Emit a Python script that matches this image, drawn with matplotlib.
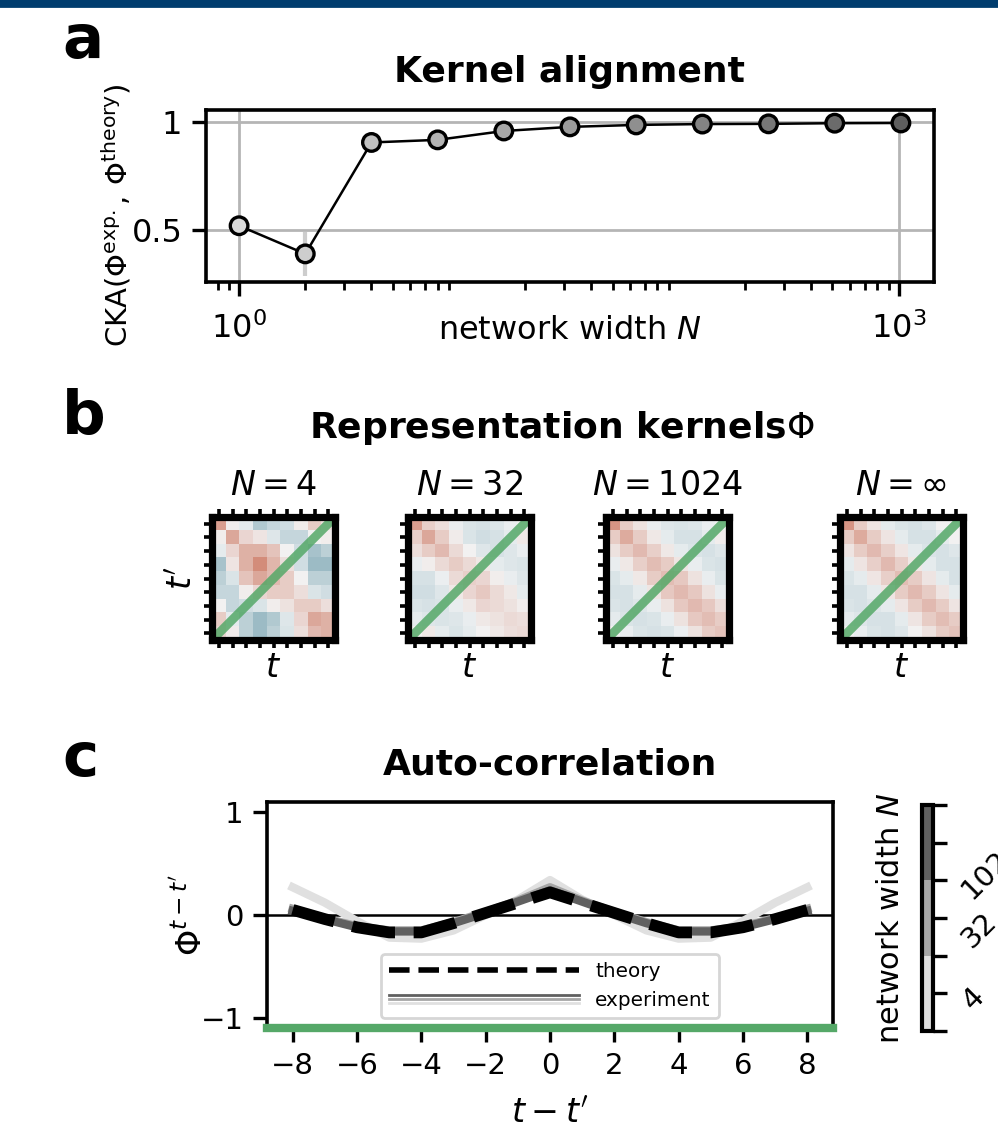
import numpy as np
import matplotlib

matplotlib.use("Agg")
import matplotlib.pyplot as plt
import seaborn as sns
from matplotlib.colors import ListedColormap, BoundaryNorm
from matplotlib.lines import Line2D
from matplotlib.legend_handler import HandlerBase
from matplotlib.patches import Rectangle
import matplotlib.colorbar as mcolorbar

W, H = 998, 1133
plt.rcParams["font.family"] = ["DejaVu Sans"]
plt.rcParams["font.size"] = 10

# ---- data -------------------------------------------------------------
widths = [1, 2, 4, 8, 16, 32, 64, 128, 256, 512, 1024]
cka = [0.52, 0.39, 0.905, 0.917, 0.958, 0.977, 0.986, 0.99, 0.991, 0.994, 0.995]
cka_err = [0.02, 0.1, 0.01, 0.01, 0.006, 0.004, 0.003, 0.002, 0.002, 0.001, 0.001]

kernel_titles = ["$N=4$", "$N=32$", "$N=1024$", r"$N=\infty$"]
kernel_n4 = [
    [0.45, 0.02, -0.05, -0.30, -0.20, -0.15, 0.03, 0.20, 0.10],
    [0.02, 0.40, 0.15, 0.07, -0.08, -0.20, -0.20, 0.00, 0.02],
    [-0.05, 0.15, 0.35, 0.35, 0.25, 0.00, -0.15, -0.35, -0.25],
    [-0.35, 0.07, 0.35, 0.55, 0.32, 0.10, -0.15, -0.40, -0.40],
    [-0.25, -0.10, 0.25, 0.40, 0.30, 0.20, 0.00, -0.25, -0.25],
    [-0.20, -0.20, 0.02, 0.15, 0.20, 0.20, 0.10, -0.10, -0.15],
    [0.00, -0.20, -0.15, -0.10, 0.02, 0.08, 0.20, 0.20, 0.10],
    [0.20, -0.05, -0.25, -0.40, -0.30, -0.08, 0.15, 0.40, 0.35],
    [0.15, 0.03, -0.25, -0.40, -0.25, -0.10, 0.10, 0.30, 0.35],
]
kernel_n32 = [
    [0.45, 0.18, 0.10, -0.03, -0.10, -0.12, -0.08, -0.02, 0.00],
    [0.18, 0.40, 0.20, 0.03, -0.10, -0.15, -0.12, -0.05, 0.05],
    [0.10, 0.20, 0.30, 0.12, 0.00, -0.08, -0.12, -0.08, -0.03],
    [-0.03, 0.02, 0.12, 0.20, 0.12, 0.05, -0.05, -0.08, -0.10],
    [-0.12, -0.12, -0.02, 0.12, 0.18, 0.15, 0.02, -0.03, -0.08],
    [-0.15, -0.15, -0.08, 0.05, 0.15, 0.22, 0.12, 0.05, -0.05],
    [-0.10, -0.12, -0.10, -0.03, 0.05, 0.15, 0.12, 0.08, 0.02],
    [-0.05, -0.08, -0.10, -0.08, -0.03, 0.05, 0.08, 0.12, 0.10],
    [0.00, 0.05, -0.05, -0.10, -0.05, 0.00, 0.05, 0.10, 0.12],
]
kernel_n1024 = [
    [0.50, 0.20, 0.08, -0.03, -0.08, -0.10, -0.08, -0.02, 0.00],
    [0.20, 0.38, 0.20, 0.05, -0.05, -0.12, -0.12, -0.05, 0.02],
    [0.08, 0.20, 0.30, 0.18, 0.05, -0.05, -0.10, -0.12, -0.08],
    [-0.03, 0.05, 0.18, 0.28, 0.20, 0.06, -0.03, -0.10, -0.12],
    [-0.10, -0.05, 0.05, 0.20, 0.28, 0.22, 0.08, -0.03, -0.10],
    [-0.12, -0.12, -0.05, 0.06, 0.22, 0.30, 0.22, 0.08, -0.03],
    [-0.10, -0.12, -0.08, -0.03, 0.08, 0.22, 0.30, 0.22, 0.10],
    [-0.05, -0.10, -0.12, -0.10, -0.03, 0.08, 0.22, 0.28, 0.20],
    [0.00, -0.03, -0.10, -0.12, -0.10, -0.02, 0.08, 0.20, 0.25],
]
kernel_inf = [
    [0.50, 0.20, 0.07, -0.05, -0.10, -0.12, -0.08, 0.00, 0.00],
    [0.20, 0.38, 0.20, 0.07, -0.05, -0.12, -0.12, -0.05, 0.00],
    [0.07, 0.20, 0.30, 0.18, 0.06, -0.05, -0.10, -0.12, -0.08],
    [-0.05, 0.07, 0.18, 0.30, 0.18, 0.05, -0.05, -0.12, -0.12],
    [-0.10, -0.05, 0.06, 0.18, 0.28, 0.20, 0.07, -0.05, -0.12],
    [-0.12, -0.12, -0.05, 0.06, 0.20, 0.30, 0.20, 0.07, -0.05],
    [-0.10, -0.12, -0.08, -0.05, 0.07, 0.20, 0.30, 0.20, 0.07],
    [-0.05, -0.08, -0.12, -0.12, -0.05, 0.07, 0.20, 0.28, 0.20],
    [0.00, -0.03, -0.10, -0.12, -0.08, 0.00, 0.08, 0.20, 0.25],
]
kernels = [kernel_n4, kernel_n32, kernel_n1024, kernel_inf]

lags = [-8, -7, -6, -5, -4, -3, -2, -1, 0, 1, 2, 3, 4, 5, 6, 7, 8]
autocorr_theory = [0.05, -0.04, -0.12, -0.17, -0.17, -0.08, 0.02, 0.12, 0.22,
                   0.12, 0.02, -0.08, -0.17, -0.17, -0.12, -0.04, 0.05]
autocorr_n4 = [0.27, 0.12, -0.06, -0.22, -0.23, -0.15, 0.00, 0.15, 0.34,
               0.15, 0.00, -0.15, -0.23, -0.22, -0.06, 0.12, 0.27]
autocorr_n32 = [0.06, -0.03, -0.11, -0.15, -0.15, -0.07, 0.03, 0.14, 0.27,
                0.14, 0.03, -0.07, -0.15, -0.15, -0.11, -0.03, 0.06]
autocorr_n1024 = [0.04, -0.04, -0.12, -0.16, -0.16, -0.08, 0.02, 0.13, 0.24,
                  0.13, 0.02, -0.08, -0.16, -0.16, -0.12, -0.04, 0.04]
cbar_labels = ["4", "32", "1024"]

GREEN = "#55a868"
GRAYS = ["#e0e0e0", "#a6a6a6", "#606060"]


def box(x0, y0, x1, y1):
    """pixel box (top-left origin) -> figure fraction rect"""
    return [x0 / W, 1 - y1 / H, (x1 - x0) / W, (y1 - y0) / H]


fig = plt.figure(figsize=(W / 200, H / 200), dpi=200)
fig.patches.append(Rectangle((0, 1 - 6 / H), 1, 6 / H, transform=fig.transFigure,
                             color="#003d6e", zorder=10))

for letter, y in [("a", 58), ("b", 434), ("c", 776)]:
    fig.text(62 / W, 1 - y / H, letter, fontsize=22, fontweight="bold", va="baseline")

# ---- a: kernel alignment ---------------------------------------------
ax = fig.add_axes(box(206, 110, 934, 282))
face = plt.cm.gray(np.linspace(0.85, 0.37, len(widths)))
ax.plot(widths, cka, color="k", lw=0.9, zorder=2)
for x, y, e, c in zip(widths, cka, cka_err, face):
    ax.errorbar(x, y, yerr=e, fmt="none", ecolor=c, elinewidth=1.5, zorder=1.5)
ax.scatter(widths, cka, s=40, c=face, edgecolors="k", linewidths=1.2, zorder=3)
ax.set_xscale("log")
ax.set_xticks([1, 1000])
ax.set_yticks([0.5, 1.0])
ax.set_yticklabels(["0.5", "1"])
ax.set_ylim(0.26, 1.055)
ax.grid(True, which="major", color="#b5b5b5", lw=1.0)
ax.set_axisbelow(True)
ax.set_xlabel("network width $N$", fontsize=11.5, labelpad=-11)
ax.set_ylabel(r"CKA$(\Phi^{\rm exp.},\,\Phi^{\rm theory})$", fontsize=10.5)
ax.yaxis.set_label_coords(-0.1, 0.39)
ax.set_title("Kernel alignment", fontsize=13, fontweight="bold", pad=10)
for s in ax.spines.values():
    s.set_linewidth(1.3)
ax.tick_params(which="major", length=5, width=1.2, labelsize=11.5)
ax.tick_params(axis="x", which="major", pad=6)
ax.tick_params(which="minor", length=3, width=1.0)

# ---- b: representation kernels ----------------------------------------
fig.text(562 / W, 1 - 428 / H, r"Representation kernels$\Phi$", fontsize=13,
         fontweight="bold", ha="center", va="center")
cmap = sns.diverging_palette(220, 20, as_cmap=True)
for i, (left, mat, title) in enumerate(zip([212, 408, 606, 840], kernels, kernel_titles)):
    axk = fig.add_axes(box(left, 517, left + 123, 640))
    axk.imshow(np.array(mat), cmap=cmap, vmin=-0.85, vmax=0.85, aspect="auto")
    axk.plot([0, 1], [0, 1], transform=axk.transAxes, color=GREEN, lw=3.2,
             alpha=0.85, solid_capstyle="butt")
    axk.set_xticks(range(9))
    axk.set_yticks(range(9))
    axk.tick_params(top=True, bottom=True, left=True, right=False,
                    labelbottom=False, labelleft=False, length=3, width=1.3)
    for s in axk.spines.values():
        s.set_linewidth(2.6)
    axk.set_xlabel("$t$", fontsize=12, labelpad=1)
    if i == 0:
        axk.set_ylabel("$t'$", fontsize=12, labelpad=2)
    axk.set_title(title, fontsize=12, pad=8)

# ---- c: auto-correlation ----------------------------------------------
axc = fig.add_axes(box(267, 802, 833, 1028))
axc.axhline(0, color="k", lw=0.9, zorder=1)
for vals, c in zip([autocorr_n4, autocorr_n32, autocorr_n1024], GRAYS):
    axc.plot(lags, vals, color=c, lw=3, zorder=2)
axc.plot(lags, autocorr_theory, color="k", ls="--", lw=4.2, zorder=3)
axc.set_ylim(-1.1, 1.1)
axc.set_yticks([-1, 0, 1])
axc.set_xticks(range(-8, 9, 2))
axc.set_xlabel("$t-t'$", fontsize=12, labelpad=6)
axc.set_ylabel("$\\Phi^{t-t'}$", fontsize=12, labelpad=-3)
axc.set_title("Auto-correlation", fontsize=13, fontweight="bold", pad=10)
for s in axc.spines.values():
    s.set_linewidth(1.3)
axc.spines["bottom"].set_color(GREEN)
axc.spines["bottom"].set_linewidth(3)
axc.tick_params(length=5, width=1.2, labelsize=10.5)


class HandlerStack(HandlerBase):
    """three thin gray lines, one per width, stacked in the legend slot"""
    def create_artists(self, legend, orig_handle, xd, yd, width, height, fontsize, trans):
        arts = []
        for k, c in enumerate(GRAYS[::-1]):
            y = height / 2 + 1.6 - 1.6 * k
            arts.append(Line2D([0, width], [y, y], color=c, lw=1.0, transform=trans))
        return arts


class ExpHandle:
    pass


theory_h = Line2D([], [], color="k", ls="--", lw=2)
axc.legend([theory_h, ExpHandle()], ["theory", "experiment"], loc="lower center",
           bbox_to_anchor=(0.5, 0.0), fontsize=7.2, handlelength=9.5,
           handler_map={ExpHandle: HandlerStack()})

cax = fig.add_axes(box(922, 805, 933, 1031))
cb = mcolorbar.ColorbarBase(cax, cmap=ListedColormap(GRAYS),
                            norm=BoundaryNorm([0, 1, 2, 3], 3), orientation="vertical")
cb.set_ticks([0, 0.5, 1, 1.5, 2, 2.5, 3])
cb.set_ticklabels(["", cbar_labels[0], "", cbar_labels[1], "", cbar_labels[2], ""])
cb.outline.set_linewidth(1.5)
cax.tick_params(length=5, width=1.2, labelsize=10.5, labelrotation=45)
cax.yaxis.set_label_position("left")
cb.set_label("network width $N$", fontsize=11, labelpad=6)

fig.savefig("out.png", dpi=200)
